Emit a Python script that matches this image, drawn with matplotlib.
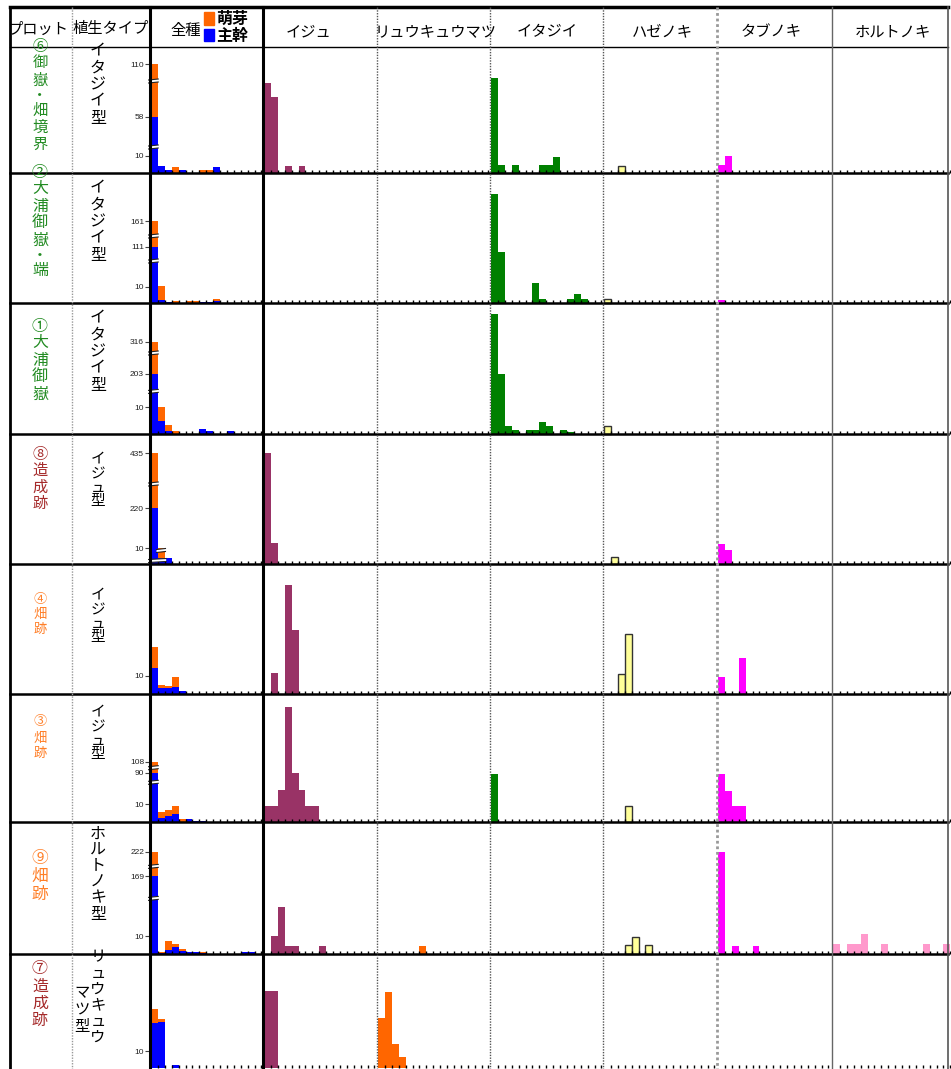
import numpy as np
import matplotlib
matplotlib.use("Agg")
import matplotlib.pyplot as plt
from matplotlib.patches import Rectangle, Polygon

plt.rcParams['font.family'] = ['Noto Sans CJK JP', 'DejaVu Sans']

# ---------------- data ----------------
plot_labels = ['⑥御嶽・畑境界', '②大浦御嶽・端', '①大浦御嶽', '⑧造成跡',
               '④畑跡', '③畑跡', '⑨畑跡', '⑦造成跡']
plot_groups = ['green', 'green', 'green', 'red', 'orange', 'orange', 'orange', 'red']
veg_labels = ['イタジイ型', 'イタジイ型', 'イタジイ型', 'イジュ型', 'イジュ型',
              'イジュ型', 'ホルトノキ型', 'リュウキュウマツ型']
header_cols = ['プロット', '植生タイプ', '全種']
species = ['イジュ', 'リュウキュウマツ', 'イタジイ', 'ハゼノキ', 'タブノキ', 'ホルトノキ']
legend_labels = ['萌芽', '主幹']

# 全種: number of stems per diameter class, 主幹 (main stem) and 萌芽 (sprout)
main_stems = [
    [58, 4.2, 1.9, 0, 1.9, 0, 0, 0, 0, 3.6],
    [111, 2, 0.5, 0, 0, 0, 0, 0.5, 0.5, 1],
    [203, 5, 1.2, 0, 0, 0, 0, 2, 1, 0, 0, 1],
    [220, 4, 4],
    [14.3, 3.3, 3.5, 4, 1.4],
    [90, 2.3, 3.2, 4.3, 0, 1.5, 0.5, 0.5],
    [169, 0.5, 2.4, 3.8, 1.9, 1.1, 1.1, 0.5, 0, 0, 0, 0, 0, 1, 1],
    [26.5, 27, 0, 1.6],
]
sprouts = [
    [52, 0, 0, 3.6, 0, 0, 0, 1.9, 1.9, 0],
    [50, 10, 0, 1, 0, 1, 1, 0, 0, 1.5],
    [113, 8, 2.2, 1.2],
    [215, 8, 0],
    [11.7, 1.7, 1, 5.5, 0],
    [18, 3.2, 3.4, 4.6, 1.5],
    [53, 0.8, 5.1, 2.0, 1.1, 0, 0, 0.6],
    [8.5, 2, 0, 0],
]
axis_ticks = [[10, 58, 110], [10, 111, 161], [10, 203, 316], [10, 220, 435],
              [10], [10, 90, 108], [10, 169, 222], [10]]

# species panels: relative bar heights per diameter class {class: height}
ijyu = [{0: 90, 1: 76, 3: 7.3, 5: 7.3}, {}, {}, {0: 111, 1: 21.5},
        {1: 21, 3: 109, 4: 64},
        {0: 15.7, 1: 15.7, 2: 32, 3: 115, 4: 49, 5: 32, 6: 15.7, 7: 15.7},
        {1: 18, 2: 47, 3: 8, 4: 8, 8: 8}, {0: 77, 1: 77}]
ryukyumatsu = [{}, {}, {}, {}, {}, {}, {6: 8}, {0: 50, 1: 76, 2: 24, 3: 11}]
itajii = [{0: 95, 1: 8, 3: 8, 7: 8, 8: 8, 9: 16},
          {0: 109, 1: 51, 6: 20, 7: 4.3, 11: 4.3, 12: 9.3, 13: 4.3},
          {0: 120, 1: 60, 2: 7.7, 3: 4.3, 5: 4.3, 6: 4.3, 7: 11.7, 8: 7.7, 10: 4.3, 11: 2.3},
          {}, {}, {0: 48}, {}, {}]
hazenoki = [{2: 7.3}, {0: 4}, {0: 7.7}, {1: 7}, {2: 20, 3: 60}, {3: 15.7},
            {3: 9, 4: 17, 6: 9}, {}]
tabunoki = [{0: 8, 1: 17}, {0: 3.3}, {}, {0: 20, 1: 14}, {0: 17, 3: 36},
            {0: 48, 1: 31, 2: 15.7, 3: 15.7}, {0: 102, 2: 8, 5: 8}, {}]
horutonoki = [{}, {}, {}, {}, {}, {}, {0: 10, 2: 10, 3: 10, 4: 20, 7: 10, 13: 10, 16: 10}, {}]
species_data = [ijyu, ryukyumatsu, itajii, hazenoki, tabunoki, horutonoki]

# ---------------- styles / layout ----------------
W, H = 951, 1069
SPROUT_C, MAIN_C = '#FF6600', '#0000FF'
species_colors = ['#993366', '#FF6600', '#008000', '#FFFF99', '#FF00FF', '#FF99CC']
species_edges = [None, None, None, '#333333', None, None]
group_colors = {'green': '#228B22', 'red': '#A52A2A', 'orange': '#FF7F27'}
row_y = [7, 47, 173, 303, 434, 564, 694, 822, 954, 1068]
col_x = [10, 72, 150, 263, 377, 490, 603, 717, 832, 948]
BIN_PX = 6.9
# broken-axis scale: pixel height of each labelled tick above the baseline
tick_px = [[17.3, 56.3, 108.7], [16.3, 56.3, 82], [26.7, 60, 92], [15.6, 55.6, 110.6],
           [18], [17.7, 49.4, 60], [17.7, 77.7, 102], [17]]
# axis-break marks: (pixel height, x from, x to) in class units
break_marks = [[(26, -0.35, 1.05), (92, -0.35, 1.05)],
               [(42, -0.35, 1.05), (67, -0.35, 1.05)],
               [(42.6, -0.35, 1.05), (81, -0.35, 1.05)],
               [(3.5, -0.35, 2.2), (13.5, 0.8, 2.1), (80, -0.35, 1.05)],
               [],
               [(39.7, -0.35, 1.05), (54.3, -0.35, 1.05)],
               [(55.6, -0.35, 1.05), (87.6, -0.35, 1.05)],
               []]


def make_scale(ticks, pxs):
    v = [0.0] + list(ticks)
    p = [0.0] + list(pxs)
    s0 = p[1] / v[1]
    s1 = (p[-1] - p[-2]) / (v[-1] - v[-2])
    v = np.array([-1e4] + v + [v[-1] + 1e4])
    p = np.array([-1e4 * s0] + p + [p[-1] + 1e4 * s1])
    return (lambda x: np.interp(x, v, p)), (lambda y: np.interp(y, p, v))


fig = plt.figure(figsize=(W / 100, H / 100), dpi=100)

for r in range(8):
    top, base = row_y[r + 1], row_y[r + 2]
    h = base - top
    for c in range(7):
        left = col_x[c + 2] + 1
        right = col_x[c + 3] if c < 6 else W
        ax = fig.add_axes([left / W, 1 - base / H, (right - left) / W, h / H])
        ax.patch.set_visible(False)
        for s in ax.spines.values():
            s.set_visible(False)
        nb = (right - left) / BIN_PX
        ax.set_xlim(0, nb)
        ax.set_xticks(np.arange(1, int(nb) + 1))
        ax.tick_params(axis='x', direction='in', length=2.2, width=1.0,
                       labelbottom=False, color='black')
        if c == 0:
            fwd, inv = make_scale(axis_ticks[r], tick_px[r])
            ax.set_yscale('function', functions=(fwd, inv))
            ax.set_ylim(0, inv(h))
            ms = np.array(main_stems[r], float)
            sp = np.zeros_like(ms)
            sp[:len(sprouts[r])] = sprouts[r][:len(ms)]
            x = np.arange(len(ms))
            ax.bar(x, ms, width=1, align='edge', color=MAIN_C, linewidth=0)
            ax.bar(x, sp, width=1, bottom=ms, align='edge', color=SPROUT_C, linewidth=0)
            ax.set_yticks(axis_ticks[r])
            ax.set_yticklabels([str(t) for t in axis_ticks[r]], fontsize=6,
                               family='Liberation Sans', color='#222222')
            ax.tick_params(axis='y', direction='out', length=4, width=0.8,
                           color='#444444', pad=1)
            for bp, x0, x1 in break_marks[r]:
                pts = [(x0, inv(bp - 2.0)), (x1, inv(bp - 1.0)),
                       (x1, inv(bp + 2.0)), (x0, inv(bp + 1.0))]
                ax.add_patch(Polygon(pts, closed=True, facecolor='white',
                                     edgecolor='none', clip_on=False, zorder=5))
                ax.plot([x0, x1], [inv(bp - 2.0), inv(bp - 1.0)], color='#222222',
                        lw=0.8, clip_on=False, zorder=6)
                ax.plot([x0, x1], [inv(bp + 1.0), inv(bp + 2.0)], color='#222222',
                        lw=0.8, clip_on=False, zorder=6)
        else:
            ax.set_ylim(0, h)
            ax.set_yticks([])
            d = species_data[c - 1][r]
            if d:
                xs = sorted(d)
                ax.bar(xs, [d[k] for k in xs], width=1, align='edge',
                       color=species_colors[c - 1],
                       edgecolor=species_edges[c - 1] or 'none',
                       linewidth=1.0 if species_edges[c - 1] else 0,
                       clip_on=False)

# ---------------- table overlay ----------------
ov = fig.add_axes([0, 0, 1, 1])
ov.set_xlim(0, W)
ov.set_ylim(H, 0)
ov.axis('off')
ov.patch.set_visible(False)

# horizontal lines
ov.plot([10, 948], [7, 7], color='black', lw=2.5)
ov.plot([10, 948], [47, 47], color='black', lw=1.0)
for y in row_y[2:-1]:
    ov.plot([10, 948], [y, y], color='black', lw=1.8)
# vertical lines
ov.plot([10, 10], [7, H], color='black', lw=2.0)
ov.plot([948, 948], [7, H], color='#555555', lw=1.2)
ov.plot([72, 72], [7, H], color='#999999', lw=1.0, ls=(0, (1, 1)))
ov.plot([150, 150], [7, H], color='black', lw=2.2)
ov.plot([263, 263], [7, H], color='black', lw=2.2)
for x in [377, 490, 603]:
    ov.plot([x, x], [7, H], color='#555555', lw=1.0, ls=(0, (1, 1)))
ov.plot([717, 717], [7, H], color='#999999', lw=2.0, ls=(0, (1, 1)))
ov.plot([832, 832], [7, H], color='#666666', lw=1.0)

# header
ov.text(38, 29, header_cols[0], ha='center', va='center', fontsize=11)
ov.text(111, 29, header_cols[1], ha='center', va='center', fontsize=11)
ov.text(186, 31, header_cols[2], ha='center', va='center', fontsize=11)
ov.add_patch(Rectangle((204, 12), 10, 13, color=SPROUT_C))
ov.add_patch(Rectangle((204, 29), 10, 12, color=MAIN_C))
ov.text(216, 19, legend_labels[0], ha='left', va='center', fontsize=11.5, weight='bold')
ov.text(216, 36, legend_labels[1], ha='left', va='center', fontsize=11.5, weight='bold')
sp_centers = [309, 436, 547, 662, 771, 893]
for xc, name in zip(sp_centers, species):
    ov.text(xc, 32, name, ha='center', va='center', fontsize=11)


def vtext(x, y0, step, s, small='・', **kw):
    y = y0
    prev = None
    for ch in s:
        adv = 0.8 if ch in small else 1.0
        if prev is not None:
            y += step * (prev + adv) / 2
        ov.text(x, y, ch, ha='center', va='center', **kw)
        prev = adv


# plot labels (y start, step, fontsize)
plot_pos = [(46, 17, 11), (172, 17, 11.5), (326, 17, 11.5), (454, 16.5, 11),
            (599, 15.5, 9.5), (722, 16, 9.5), (858, 18, 12), (969, 17, 11.5)]
for lab, g, (y0, st, fs) in zip(plot_labels, plot_groups, plot_pos):
    vtext(40, y0, st, lab, color=group_colors[g], fontsize=fs)

# vegetation type labels
veg_pos = [(51, 16.8, 11.5), (188, 16.8, 11.5), (318, 16.8, 11.5), (459, 15, 10.5),
           (595, 15, 10.5), (712, 15, 10.5), (834, 16, 11.5)]
for lab, (y0, st, fs) in zip(veg_labels[:7], veg_pos):
    vtext(98, y0, st, lab, small='・ュ', fontsize=fs)
last = veg_labels[7]
vtext(98, 957, 16, last[:6], small='', fontsize=11)
vtext(82, 993, 16.5, last[6:], small='', fontsize=11)

fig.savefig('out.png', dpi=100)
